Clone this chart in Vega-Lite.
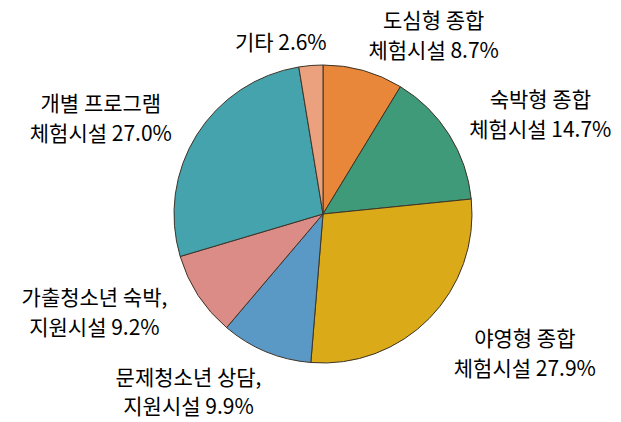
{
  "$schema": "https://vega.github.io/schema/vega-lite/v6.json",
  "width": 298,
  "height": 298,
  "autosize": {"type": "none"},
  "padding": {"left": 174, "top": 65, "right": 149, "bottom": 59},
  "background": "white",
  "config": {"view": {"stroke": null}},
  "data": {
    "values": [
      {"category": "도심형 종합 체험시설", "label": "도심형 종합\n체험시설 8.7%", "value": 8.7},
      {"category": "숙박형 종합 체험시설", "label": "숙박형 종합\n체험시설 14.7%", "value": 14.7},
      {"category": "야영형 종합 체험시설", "label": "야영형 종합\n체험시설 27.9%", "value": 27.9},
      {"category": "문제청소년 상담, 지원시설", "label": "문제청소년 상담,\n지원시설 9.9%", "value": 9.9},
      {"category": "가출청소년 숙박, 지원시설", "label": "가출청소년 숙박,\n지원시설 9.2%", "value": 9.2},
      {"category": "개별 프로그램 체험시설", "label": "개별 프로그램\n체험시설 27.0%", "value": 27.0},
      {"category": "기타", "label": "기타 2.6%", "value": 2.6}
    ]
  },
  "transform": [{"window": [{"op": "row_number", "as": "idx"}]}],
  "encoding": {
    "theta": {"field": "value", "type": "quantitative", "stack": true},
    "order": {"field": "idx", "type": "quantitative"}
  },
  "layer": [
    {
      "mark": {"type": "arc", "stroke": "#3d3428", "strokeWidth": 1},
      "encoding": {
        "color": {
          "field": "category",
          "type": "nominal",
          "legend": null,
          "scale": {
            "domain": ["도심형 종합 체험시설", "숙박형 종합 체험시설", "야영형 종합 체험시설", "문제청소년 상담, 지원시설", "가출청소년 숙박, 지원시설", "개별 프로그램 체험시설", "기타"],
            "range": ["#E8863A", "#3E9A78", "#DAAA18", "#5A98C6", "#DC8C86", "#44A3AD", "#EBA07E"]
          }
        }
      }
    },
    {
      "mark": {"type": "text", "radius": 210, "dx": 54, "dy": 10, "fontSize": 21, "font": "Noto Sans CJK KR", "lineBreak": "\n", "lineHeight": 30, "align": "center", "baseline": "middle", "color": "black"},
      "encoding": {"text": {"condition": {"test": "datum.idx === 1", "field": "label"}, "value": ""}}
    },
    {
      "mark": {"type": "text", "radius": 238, "dx": 16, "dy": 14, "fontSize": 21, "font": "Noto Sans CJK KR", "lineBreak": "\n", "lineHeight": 30, "align": "center", "baseline": "middle", "color": "black"},
      "encoding": {"text": {"condition": {"test": "datum.idx === 2", "field": "label"}, "value": ""}}
    },
    {
      "mark": {"type": "text", "radius": 245, "dx": 27, "dy": -46, "fontSize": 21, "font": "Noto Sans CJK KR", "lineBreak": "\n", "lineHeight": 30, "align": "center", "baseline": "middle", "color": "black"},
      "encoding": {"text": {"condition": {"test": "datum.idx === 3", "field": "label"}, "value": ""}}
    },
    {
      "mark": {"type": "text", "radius": 226, "dx": -48, "dy": -44, "fontSize": 21, "font": "Noto Sans CJK KR", "lineBreak": "\n", "lineHeight": 29, "align": "center", "baseline": "middle", "color": "black"},
      "encoding": {"text": {"condition": {"test": "datum.idx === 4", "field": "label"}, "value": ""}}
    },
    {
      "mark": {"type": "text", "radius": 249, "dx": -20, "dy": -51, "fontSize": 21, "font": "Noto Sans CJK KR", "lineBreak": "\n", "lineHeight": 30, "align": "center", "baseline": "middle", "color": "black"},
      "encoding": {"text": {"condition": {"test": "datum.idx === 5", "field": "label"}, "value": ""}}
    },
    {
      "mark": {"type": "text", "radius": 242, "dx": -17, "dy": 19, "fontSize": 21, "font": "Noto Sans CJK KR", "lineBreak": "\n", "lineHeight": 30, "align": "center", "baseline": "middle", "color": "black"},
      "encoding": {"text": {"condition": {"test": "datum.idx === 6", "field": "label"}, "value": ""}}
    },
    {
      "mark": {"type": "text", "radius": 174, "dx": -28, "dy": 3, "fontSize": 21, "font": "Noto Sans CJK KR", "lineBreak": "\n", "lineHeight": 30, "align": "center", "baseline": "middle", "color": "black"},
      "encoding": {"text": {"condition": {"test": "datum.idx === 7", "field": "label"}, "value": ""}}
    }
  ]
}
